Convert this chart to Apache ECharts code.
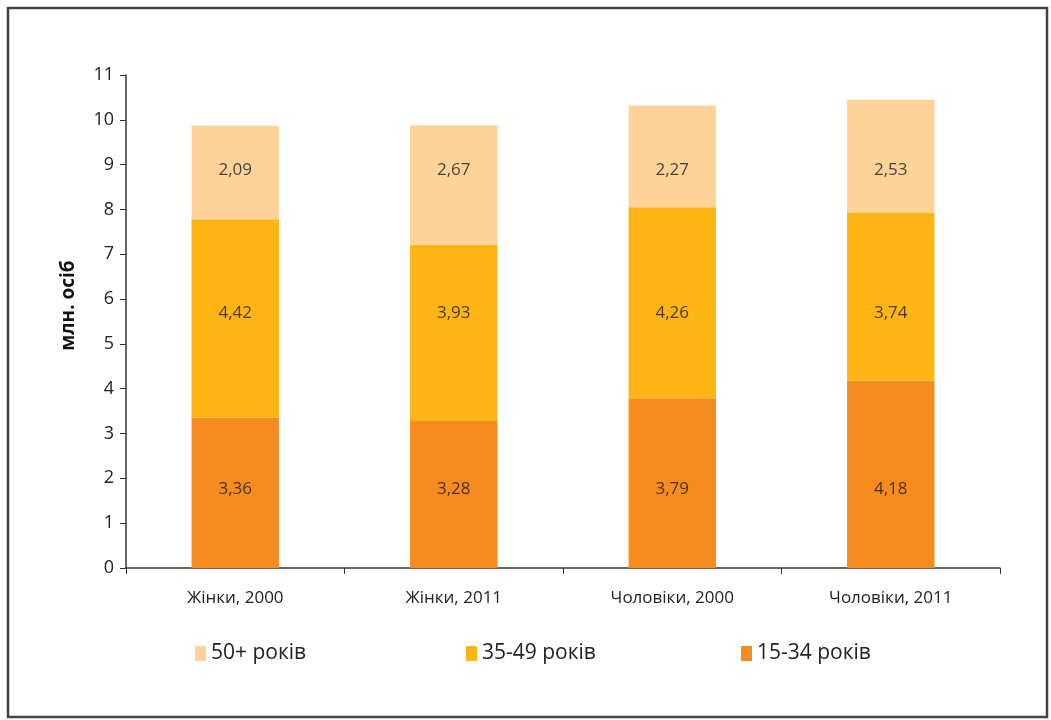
<!DOCTYPE html>
<html>
<head>
<meta charset="utf-8">
<script src="https://cdn.jsdelivr.net/npm/echarts@6/dist/echarts.min.js"></script>
<style>
html,body{margin:0;padding:0;background:#fff;}
#main{width:1051px;height:720px;}
</style>
</head>
<body>
<div id="main"></div>
<script>
var categories = ['Жінки, 2000', 'Жінки, 2011', 'Чоловіки, 2000', 'Чоловіки, 2011'];
var age15_34 = [3.36, 3.28, 3.79, 4.18];
var age35_49 = [4.42, 3.93, 4.26, 3.74];
var age50plus = [2.09, 2.67, 2.27, 2.53];
var seriesNames = ['15-34 років', '35-49 років', '50+ років'];
var yTicks = [0, 1, 2, 3, 4, 5, 6, 7, 8, 9, 10, 11];

// value-label rows (the source prints each segment's value on a common row)
var LABEL_ROWS = [1.76, 5.69, 8.87];

var FONT = '"Open Sans", "Noto Sans", sans-serif';
var colors = ['#F68B1F', '#FDB515', '#FDD39A'];

var chart = echarts.init(document.getElementById('main'), null, {renderer: 'canvas'});

function barSeries(name, data, color) {
  return {
    name: name,
    type: 'bar',
    stack: 'total',
    data: data,
    barWidth: '40%',
    itemStyle: {color: color},
    label: {show: false},
    emphasis: {disabled: true}
  };
}

function labelSeries(values, rowY) {
  return {
    type: 'scatter',
    symbolSize: 0,
    silent: true,
    z: 5,
    data: values.map(function (v, i) { return {value: [i, rowY], raw: v}; }),
    label: {
      show: true,
      position: 'inside',
      formatter: function (p) { return p.data.raw.toFixed(2).replace('.', ','); },
      color: '#1a1a1a',
      fontFamily: FONT,
      fontSize: 17
    },
    emphasis: {disabled: true}
  };
}

function legendAt(left, name) {
  return {
    left: left,
    top: 638,
    data: [name],
    icon: 'rect',
    itemWidth: 11,
    itemHeight: 15,
    itemGap: 9,
    textStyle: {fontFamily: FONT, fontSize: 21, color: '#222'},
    selectedMode: false
  };
}

chart.setOption({
  animation: false,
  backgroundColor: '#fff',
  grid: {left: 126, right: 51, top: 75, bottom: 152},
  legend: [
    legendAt(190, seriesNames[2]),
    legendAt(461, seriesNames[1]),
    legendAt(736, seriesNames[0])
  ],
  xAxis: {
    type: 'category',
    data: categories,
    axisLine: {lineStyle: {color: '#333', width: 1.5}},
    axisTick: {show: true, length: 6, lineStyle: {color: '#333'}},
    axisLabel: {fontFamily: FONT, fontSize: 17, color: '#222', margin: 22}
  },
  yAxis: {
    type: 'value',
    min: yTicks[0],
    max: yTicks[yTicks.length - 1],
    interval: 1,
    name: 'млн. осіб',
    nameLocation: 'middle',
    nameGap: 48,
    nameRotate: 90,
    nameTextStyle: {fontFamily: FONT, fontSize: 19, fontWeight: 'bold', color: '#111', padding: [0, 0, 0, 32]},
    axisLine: {show: true, lineStyle: {color: '#333', width: 1.5}},
    axisTick: {show: true, length: 6, lineStyle: {color: '#333'}},
    axisLabel: {fontFamily: FONT, fontSize: 18, color: '#222', margin: 12},
    splitLine: {show: false}
  },
  graphic: [{
    type: 'rect',
    shape: {x: 8, y: 8, width: 1039, height: 709},
    style: {fill: 'none', stroke: '#444', lineWidth: 2.5},
    silent: true
  }],
  series: [
    barSeries(seriesNames[0], age15_34, colors[0]),
    barSeries(seriesNames[1], age35_49, colors[1]),
    barSeries(seriesNames[2], age50plus, colors[2]),
    labelSeries(age15_34, LABEL_ROWS[0]),
    labelSeries(age35_49, LABEL_ROWS[1]),
    labelSeries(age50plus, LABEL_ROWS[2])
  ]
});
</script>
</body>
</html>
